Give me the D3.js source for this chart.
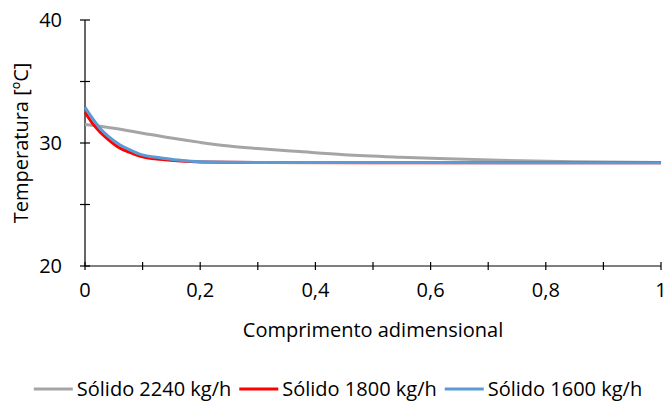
<!DOCTYPE html>
<html lang="pt">
<head>
<meta charset="UTF-8">
<title>Temperatura</title>
<script src="https://d3js.org/d3.v7.min.js"></script>
<style>
    body { margin: 0; background: #fff; }
    text { font-family: "Open Sans", Lato, sans-serif; fill: #000; }
</style>
</head>
<body>
<script>

    // valores
    var xs2240 = [0, 0.05, 0.1, 0.15, 0.2, 0.25, 0.3, 0.373, 0.45, 0.547, 0.63, 0.72, 0.85, 1];
    var ys2240 = [31.5, 31.2, 30.8, 30.4, 30.05, 29.75, 29.55, 29.3, 29.05, 28.85, 28.72, 28.6, 28.48, 28.42];

    var xs1800 = [0, 0.013, 0.026, 0.04, 0.061, 0.08, 0.095, 0.11, 0.13, 0.16, 0.2, 0.3, 0.5, 0.75, 1];
    var ys1800 = [32.5, 31.6, 30.9, 30.3, 29.57, 29.2, 28.94, 28.78, 28.67, 28.55, 28.45, 28.41, 28.4, 28.4, 28.4];

    var xs1600 = [0, 0.013, 0.026, 0.04, 0.061, 0.08, 0.095, 0.11, 0.13, 0.16, 0.2, 0.3, 0.5, 0.75, 1];
    var ys1600 = [32.9, 32.0, 31.2, 30.55, 29.84, 29.4, 29.1, 28.93, 28.8, 28.62, 28.47, 28.42, 28.41, 28.4, 28.4];

    var seriesNames = ["Sólido 2240 kg/h", "Sólido 1800 kg/h", "Sólido 1600 kg/h"];
    var seriesColors = ["#a5a5a5", "#ff0000", "#5b9bd5"];

    var xTicks = [0, 0.2, 0.4, 0.6, 0.8, 1];
    var yTicks = [20, 30, 40];

    var width = 668,
        height = 401,
        plotLeft = 85,
        plotRight = 661,
        plotTop = 20,
        plotBottom = 266,
        fontSize = "20px";

    var svg = d3.select("body")
        .append("svg")
        .attr("width", width)
        .attr("height", height);

    var x = d3.scaleLinear().domain([0, 1]).range([plotLeft, plotRight]);
    var y = d3.scaleLinear().domain([20, 40]).range([plotBottom, plotTop]);

    var fmt = function (d) { return String(d).replace(".", ","); };

    // eixo x: marcas que cruzam o eixo
    var gx = svg.append("g");
    gx.append("line")
        .attr("x1", plotLeft).attr("x2", plotRight)
        .attr("y1", plotBottom).attr("y2", plotBottom)
        .attr("stroke", "#000").attr("stroke-width", 1.2);
    gx.selectAll("line.tick")
        .data(d3.range(0, 11).map(function (i) { return i / 10; }))
        .enter().append("line")
        .attr("class", "tick")
        .attr("x1", function (d) { return x(d); })
        .attr("x2", function (d) { return x(d); })
        .attr("y1", plotBottom - 4).attr("y2", plotBottom + 4)
        .attr("stroke", "#000").attr("stroke-width", 1.2);
    gx.selectAll("text")
        .data(xTicks)
        .enter().append("text")
        .attr("x", function (d) { return x(d); })
        .attr("y", 297)
        .attr("text-anchor", "middle")
        .attr("font-size", fontSize)
        .text(fmt);

    // eixo y
    var gy = svg.append("g");
    gy.append("line")
        .attr("x1", plotLeft).attr("x2", plotLeft)
        .attr("y1", plotTop).attr("y2", plotBottom)
        .attr("stroke", "#000").attr("stroke-width", 1.2);
    gy.selectAll("line.tick")
        .data([20, 25, 30, 35, 40])
        .enter().append("line")
        .attr("class", "tick")
        .attr("x1", plotLeft - 5).attr("x2", plotLeft + 5)
        .attr("y1", function (d) { return y(d); })
        .attr("y2", function (d) { return y(d); })
        .attr("stroke", "#000").attr("stroke-width", 1.2);
    gy.selectAll("text")
        .data(yTicks)
        .enter().append("text")
        .attr("x", 62)
        .attr("y", function (d) { return y(d); })
        .attr("dy", "0.36em")
        .attr("text-anchor", "end")
        .attr("font-size", fontSize)
        .text(fmt);

    svg.append("text")
        .attr("x", (plotLeft + plotRight) / 2)
        .attr("y", 337)
        .attr("text-anchor", "middle")
        .attr("font-size", fontSize)
        .text("Comprimento adimensional");

    svg.append("text")
        .attr("transform", "translate(28," + ((plotTop + plotBottom) / 2) + ") rotate(-90)")
        .attr("text-anchor", "middle")
        .attr("font-size", fontSize)
        .text("Temperatura [ºC]");

    // séries
    var series = [
        d3.zip(xs2240, ys2240),
        d3.zip(xs1800, ys1800),
        d3.zip(xs1600, ys1600)
    ];

    var line = d3.line()
        .x(function (d) { return x(d[0]); })
        .y(function (d) { return y(d[1]); })
        .curve(d3.curveMonotoneX);

    svg.append("g").selectAll("path")
        .data(series)
        .enter().append("path")
        .attr("d", line)
        .attr("fill", "none")
        .attr("stroke", function (d, i) { return seriesColors[i]; })
        .attr("stroke-width", 3);

    // legenda
    var legend = svg.append("g");
    var items = legend.selectAll("g")
        .data(seriesNames)
        .enter().append("g");
    items.append("line")
        .attr("x1", 0).attr("x2", 39)
        .attr("y1", 389).attr("y2", 389)
        .attr("stroke", function (d, i) { return seriesColors[i]; })
        .attr("stroke-width", 3);
    items.append("text")
        .attr("x", 43)
        .attr("y", 396)
        .attr("font-size", fontSize)
        .text(function (d) { return d; });

    var pos = 0, offs = [];
    items.each(function () {
        offs.push(pos);
        pos += this.getBBox().width + 8;
    });
    var total = pos - 8;
    var start = (width - total) / 2 + 4;
    items.attr("transform", function (d, i) {
        return "translate(" + (start + offs[i]) + ",0)";
    });

</script>
</body>
</html>
